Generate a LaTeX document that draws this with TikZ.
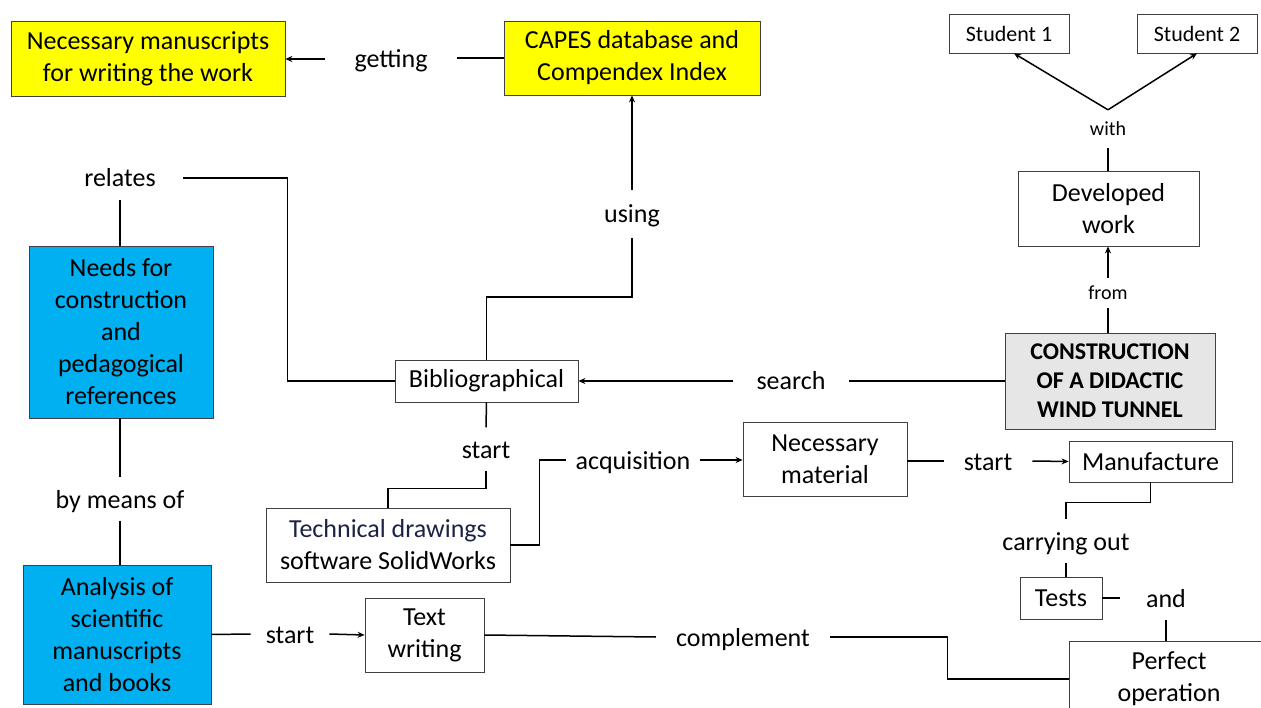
\documentclass[tikz,border=0pt]{standalone}
\usepackage{fontspec}
\setmainfont{Carlito}
\usetikzlibrary{arrows.meta,calc}
\definecolor{boxyellow}{HTML}{FFFF00}
\definecolor{boxblue}{HTML}{00B0F0}
\definecolor{boxgray}{HTML}{E6E6E6}
\definecolor{navytext}{HTML}{1C2244}
\newcommand\mapfont{\fontsize{26}{32}\selectfont}
\newcommand\smallmapfont{\fontsize{20}{24}\selectfont}
\newcommand\namefont{\fontsize{22}{26}\selectfont}
\newcommand\titlefont{\fontsize{24}{29}\selectfont\bfseries}
\tikzset{
	box/.style={draw=black!75, line width=0.8pt, align=center, inner sep=0pt, font=\mapfont},
	word/.style={inner xsep=20pt, inner ysep=9.5pt, text height=21pt, text depth=3pt, font=\mapfont},
	link/.style={line width=1.5pt},
	arrowlink/.style={link, -{Stealth[length=7pt,width=6pt]}}
}

\begin{document}
\begin{tikzpicture}[x=1pt, y=-1pt]
		%%%%% START %%%%%
		\useasboundingbox (0,0) rectangle (1261,708);
		\clip (0,0) rectangle (1261,708);
		
		% concepts
		\node[box, fill=boxyellow, minimum width=274, minimum height=75] (manuscripts) at (148,58.5) {Necessary manuscripts\\for writing the work};
		\node[box, fill=boxyellow, minimum width=256, minimum height=74] (capes) at (632,58) {CAPES database and\\Compendex Index};
		\node[box, fill=boxblue, minimum width=184, minimum height=172] (needs) at (121,332) {Needs for\\construction\\and\\pedagogical\\references};
		\node[box, fill=boxblue, minimum width=188, minimum height=139] (analysis) at (117,634.5) {Analysis of\\scientific\\manuscripts\\and books};
		\node[box, minimum width=119, minimum height=74] (writing) at (424.5,635) {Text\\writing};
		\node[box, minimum width=200, minimum height=76] (perfect) at (1169,679) {Perfect\\operation};
		\node[box, minimum width=183, minimum height=42] (biblio) at (486.5,381) {Bibliographical};
		\node[box, fill=boxgray, minimum width=210, minimum height=96, font=\titlefont] (tunnel) at (1110,381) {CONSTRUCTION\\OF A DIDACTIC\\WIND TUNNEL};
		\node[box, minimum width=181, minimum height=75] (developed) at (1108.5,208.5) {Developed\\work};
		\node[box, minimum width=120, minimum height=39, font=\namefont] (student1) at (1009,33.5) {Student 1};
		\node[box, minimum width=120, minimum height=39, font=\namefont] (student2) at (1197,33.5) {Student 2};
		\node[box, minimum width=244, minimum height=74] (drawings) at (388,545) {\textcolor{navytext}{Technical drawings}\\software SolidWorks};
		\node[box, minimum width=164, minimum height=74] (material) at (825,459) {Necessary\\material};
		\node[box, minimum width=163, minimum height=41] (manufacture) at (1150.5,461.5) {Manufacture};
		\node[box, minimum width=82, minimum height=42] (tests) at (1061,598) {Tests};
		
		% linking words
		\node[word, inner xsep=29pt] (getting) at (391,59) {getting};
		\node[word, inner ysep=12pt] (using) at (632,214) {using};
		\node[word, inner xsep=27pt] (relates) at (120,178) {relates};
		\node[word] (bymeans) at (120,499) {by means of};
		\node[word, inner xsep=15pt] (start1) at (290,634) {start};
		\node[word] (complement) at (743,637) {complement};
		\node[word, inner xsep=23pt] (search) at (791,381) {search};
		\node[word, font=\smallmapfont, text height=16pt, text depth=3pt, inner ysep=5.5pt] (from) at (1108,293) {from};
		\node[word, font=\smallmapfont, text height=16pt, text depth=3pt, inner ysep=9.5pt] (with) at (1108,129) {with};
		\node[word] (start2) at (486,449) {start};
		\node[word, inner xsep=9pt] (acquisition) at (633,460) {acquisition};
		\node[word] (start3) at (988,461) {start};
		\node[word] (carrying) at (1066,541) {carrying out};
		\node[word, inner xsep=26pt] (and) at (1166,598) {and};
		
		% connectors
		\draw[arrowlink] (getting.west) -- (getting.west -| manuscripts.east);
		\draw[link] (capes.west) -- (capes.west -| getting.east);
		\draw[arrowlink] (using.north) -- (capes.south);
		\draw[link] (using.south) -- (using.south |- 0,297) -| (biblio.north);
		\draw[link] (relates.east) -| ([xshift=-107]biblio.west) -- (biblio.west);
		\draw[link] (relates.south) -- (relates.south |- needs.north);
		\draw[link] (bymeans.north |- needs.south) -- (bymeans.north);
		\draw[link] (bymeans.south) -- (bymeans.south |- analysis.north);
		\draw[link] (analysis.east) -- (start1.west);
		\draw[arrowlink] (start1.east) -- (writing.west);
		\draw[link] (writing.east) -- (complement.west);
		\draw[link] (complement.east) -| ([xshift=-121]perfect.west) -- (perfect.west);
		\draw[arrowlink] (search.west) -- (biblio.east);
		\draw[link] (tunnel.west) -- (search.east);
		\draw[link] (tunnel.north -| from.south) -- (from.south);
		\draw[arrowlink] (from.north) -- (from.north |- developed.south);
		\draw[link] (developed.north -| with.south) -- (with.south);
		\draw[arrowlink] (with.north) -- ([xshift=5]student1.south);
		\draw[arrowlink] (with.north) -- (student2.south);
		\draw[link] (biblio.south) -- (start2.north);
		\draw[link] (start2.south) -- ++(0,18) -| (drawings.north);
		\draw[link] (drawings.east) -- ++(29,0) |- (acquisition.west);
		\draw[arrowlink] (acquisition.east) -- (acquisition.east -| material.west);
		\draw[link] (material.east |- start3.west) -- (start3.west);
		\draw[arrowlink] (start3.east) -- (manufacture.west);
		\draw[link] (manufacture.south) -- ++(0,20) -| (carrying.north);
		\draw[link] (carrying.south) -- (carrying.south |- tests.north);
		\draw[link] (tests.east) -- (and.west);
		\draw[link] (and.south) -- (and.south |- perfect.north);
		%%%%% END %%%%%
\end{tikzpicture}
\end{document}
